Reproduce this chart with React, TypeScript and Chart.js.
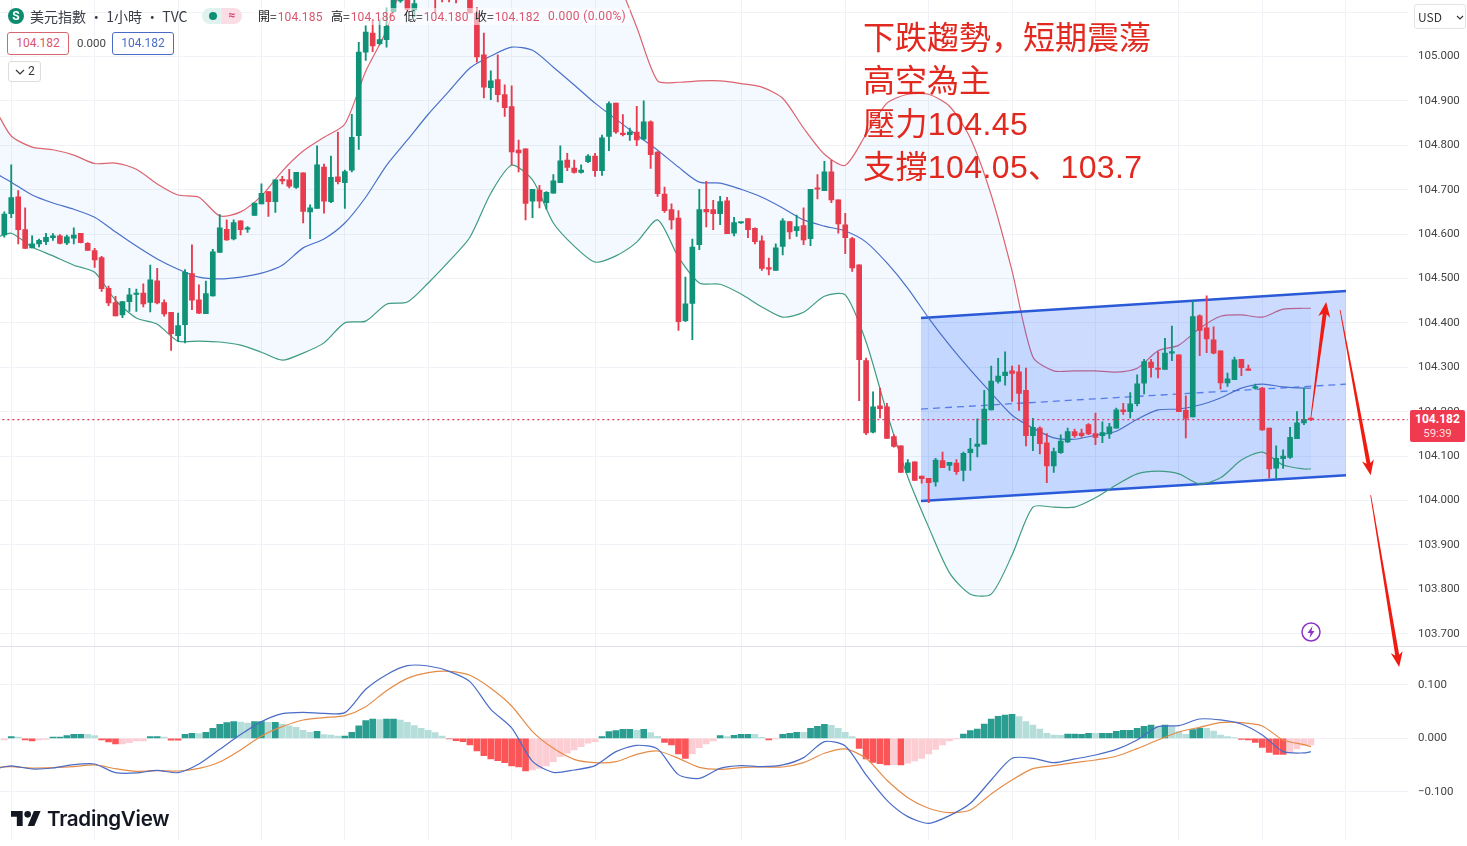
import React, { useEffect, useRef } from "react";
import Chart from "chart.js/auto";

// ---------- candles (one entry per hourly bar) ----------
const candleOpen = [
  104.598,104.646,104.684,104.61,104.569,104.578,104.583,104.592,104.596,104.58,
  104.591,104.602,104.579,104.563,104.547,104.478,104.446,104.418,104.448,104.464,
  104.467,104.446,104.495,104.446,104.424,104.371,104.396,104.511,104.452,104.421,
  104.461,104.559,104.611,104.589,104.63,104.611,104.642,104.668,104.696,104.673,
  104.722,104.722,104.705,104.738,104.65,104.658,104.751,104.673,104.729,104.716,
  104.744,104.822,105.01,105.053,105.029,105.038,105.101,105.125,105.17,105.105,
  105.15,105.18,105.2,105.16,105.15,105.15,105.14,105.135,105.098,105.004,
  104.93,104.948,104.914,104.887,104.789,104.792,104.674,104.699,104.671,104.692,
  104.716,104.767,104.749,104.739,104.763,104.776,104.743,104.82,104.895,104.827,
  104.824,104.83,104.814,104.853,104.785,104.69,104.655,104.636,104.405,104.444,
  104.576,104.656,104.655,104.646,104.675,104.602,104.625,104.635,104.613,104.585,
  104.523,104.518,104.572,104.628,104.608,104.619,104.59,104.702,104.698,104.74,
  104.677,104.621,104.59,104.531,104.315,104.154,104.213,104.211,104.144,104.123,
  104.063,104.087,104.055,104.05,104.042,104.09,104.079,104.084,104.068,104.108,
  104.122,104.127,104.204,104.268,104.281,104.292,104.29,104.248,104.146,104.163,
  104.13,104.078,104.108,104.132,104.155,104.152,104.171,104.151,104.146,104.15,
  104.163,104.204,104.2,104.218,104.264,104.312,104.296,104.295,104.332,104.328,
  104.203,104.188,104.416,104.389,104.362,104.337,104.265,104.272,104.318,104.296,
  104.253,104.253,104.163,104.073,104.094,104.097,104.139,104.175,104.185,
];
const candleHigh = [
  104.65,104.756,104.698,104.659,104.596,104.589,104.602,104.601,104.599,104.598,
  104.614,104.602,104.581,104.568,104.55,104.483,104.46,104.448,104.478,104.476,
  104.488,104.53,104.523,104.452,104.424,104.422,104.52,104.576,104.486,104.494,
  104.566,104.644,104.632,104.632,104.63,104.617,104.67,104.713,104.696,104.722,
  104.73,104.746,104.739,104.738,104.666,104.799,104.758,104.776,104.83,104.744,
  104.87,105.032,105.069,105.084,105.083,105.109,105.2,105.16,105.2,105.14,
  105.2,105.23,105.22,105.17,105.16,105.16,105.15,105.16,105.11,105.053,
  104.968,105.004,104.936,104.934,104.812,104.792,104.701,104.71,104.696,104.734,
  104.799,104.782,104.767,104.756,104.779,104.782,104.823,104.898,104.895,104.869,
  104.839,104.888,104.9,104.855,104.786,104.706,104.668,104.653,104.503,104.589,
  104.701,104.719,104.676,104.685,104.683,104.638,104.626,104.635,104.614,104.596,
  104.546,104.578,104.635,104.629,104.643,104.659,104.701,104.734,104.764,104.766,
  104.677,104.647,104.593,104.531,104.321,104.245,104.253,104.219,104.148,104.123,
  104.092,104.087,104.055,104.05,104.095,104.109,104.086,104.092,104.109,104.14,
  104.184,104.248,104.303,104.32,104.335,104.303,104.305,104.298,104.185,104.166,
  104.151,104.118,104.148,104.163,104.161,104.161,104.173,104.197,104.177,104.174,
  104.208,104.219,104.243,104.283,104.318,104.318,104.335,104.365,104.393,104.328,
  104.236,104.449,104.418,104.461,104.391,104.337,104.287,104.323,104.318,104.305,
  104.262,104.255,104.163,104.123,104.114,104.165,104.2,104.253,104.186,
];
const candleLow = [
  104.593,104.637,104.578,104.568,104.569,104.571,104.576,104.586,104.578,104.576,
  104.578,104.58,104.563,104.525,104.471,104.439,104.416,104.412,104.426,104.426,
  104.436,104.425,104.443,104.415,104.338,104.358,104.355,104.43,104.421,104.421,
  104.46,104.559,104.586,104.587,104.598,104.604,104.642,104.668,104.64,104.649,
  104.713,104.704,104.703,104.625,104.59,104.658,104.647,104.671,104.713,104.658,
  104.74,104.791,104.991,105.011,105.026,105.021,105.101,105.122,105.1,105.09,
  105.135,105.16,105.099,105.123,105.123,105.121,105.13,105.098,104.987,104.907,
  104.903,104.898,104.865,104.756,104.74,104.632,104.637,104.659,104.656,104.692,
  104.716,104.743,104.737,104.737,104.761,104.73,104.732,104.788,104.827,104.821,
  104.811,104.799,104.812,104.748,104.685,104.649,104.611,104.383,104.403,104.362,
  104.565,104.616,104.61,104.621,104.601,104.596,104.624,104.592,104.578,104.518,
  104.508,104.518,104.553,104.589,104.595,104.576,104.574,104.679,104.698,104.671,
  104.602,104.556,104.516,104.225,104.148,104.152,104.186,104.14,104.12,104.063,
  104.063,104.045,104.039,103.995,104.032,104.074,104.068,104.059,104.044,104.068,
  104.098,104.127,104.204,104.264,104.26,104.223,104.203,104.123,104.112,104.105,
  104.04,104.063,104.106,104.13,104.142,104.142,104.148,104.126,104.13,104.14,
  104.163,104.194,104.186,104.213,104.24,104.278,104.276,104.295,104.315,104.2,
  104.141,104.188,104.326,104.333,104.33,104.251,104.257,104.272,104.281,104.293,
  104.251,104.158,104.051,104.05,104.072,104.095,104.139,104.171,104.18,
];
const candleClose = [
  104.645,104.682,104.61,104.568,104.578,104.586,104.593,104.596,104.579,104.594,
  104.598,104.581,104.563,104.542,104.477,104.445,104.416,104.448,104.463,104.466,
  104.443,104.497,104.445,104.42,104.376,104.394,104.514,104.451,104.422,104.466,
  104.56,104.614,104.587,104.626,104.61,104.612,104.67,104.692,104.673,104.722,
  104.72,104.708,104.739,104.651,104.659,104.756,104.674,104.728,104.718,104.741,
  104.818,105.01,105.055,105.024,105.038,105.068,105.15,105.13,105.106,105.119,
  105.18,105.21,105.15,105.14,105.14,105.135,105.135,105.098,104.999,104.931,
  104.945,104.914,104.885,104.785,104.783,104.669,104.701,104.674,104.694,104.72,
  104.765,104.75,104.739,104.744,104.776,104.743,104.817,104.894,104.83,104.824,
  104.83,104.812,104.853,104.779,104.691,104.653,104.632,104.403,104.443,104.571,
  104.655,104.65,104.646,104.673,104.601,104.626,104.625,104.61,104.583,104.523,
  104.521,104.569,104.63,104.605,104.617,104.587,104.701,104.701,104.74,104.677,
  104.623,104.592,104.524,104.317,104.152,104.211,104.207,104.14,104.122,104.063,
  104.085,104.045,104.049,104.04,104.091,104.074,104.086,104.065,104.106,104.116,
  104.127,104.206,104.269,104.28,104.289,104.286,104.241,104.146,104.165,104.128,
  104.078,104.11,104.134,104.155,104.146,104.146,104.15,104.142,104.153,104.166,
  104.204,104.2,104.218,104.263,104.313,104.299,104.295,104.332,104.333,104.2,
  104.185,104.414,104.383,104.364,104.332,104.265,104.274,104.317,104.299,104.293,
  104.255,104.159,104.071,104.095,104.1,104.142,104.175,104.183,104.182,
];

// ---------- indicators, read at these bar numbers ----------
const sampleBars = [-1,1,4,7,10,13,16,19,22,25,28,31,34,37,40,43,46,49,52,55,58,61,64,67,70,73,76,79,82,85,88,91,94,97,100,103,106,109,112,115,118,121,124,127,130,133,136,139,142,145,148,151,154,157,160,163,166,169,172,175,178,181,184,187,188];
const bbUpper = [104.873,104.821,104.796,104.79,104.778,104.759,104.76,104.746,104.713,104.688,104.683,104.641,104.65,104.686,104.742,104.787,104.818,104.848,104.967,105.059,105.2,105.3,105.37,105.42,105.44,105.43,105.4,105.36,105.31,105.26,105.18,105.066,104.945,104.942,104.945,104.945,104.939,104.931,104.906,104.839,104.78,104.755,104.825,104.895,104.915,104.915,104.888,104.816,104.688,104.517,104.323,104.292,104.292,104.292,104.289,104.298,104.337,104.35,104.388,104.415,104.418,104.413,104.431,104.433,104.433];
const bbMiddle = [104.735,104.717,104.688,104.67,104.656,104.638,104.605,104.573,104.544,104.521,104.503,104.499,104.503,104.512,104.53,104.569,104.589,104.625,104.683,104.755,104.812,104.87,104.922,104.974,105.001,105.021,105.014,104.976,104.936,104.895,104.859,104.823,104.789,104.751,104.717,104.715,104.701,104.683,104.659,104.632,104.618,104.607,104.582,104.535,104.478,104.411,104.35,104.294,104.242,104.192,104.163,104.141,104.138,104.147,104.156,104.183,104.204,104.206,104.215,104.231,104.253,104.262,104.256,104.253,104.253];
const bbLower = [104.593,104.602,104.571,104.551,104.53,104.514,104.451,104.411,104.397,104.359,104.359,104.357,104.35,104.334,104.316,104.332,104.355,104.4,104.404,104.442,104.447,104.49,104.539,104.593,104.692,104.755,104.722,104.625,104.573,104.537,104.551,104.582,104.632,104.548,104.49,104.487,104.465,104.436,104.413,104.424,104.46,104.463,104.357,104.197,104.053,103.94,103.837,103.789,103.789,103.877,103.985,103.985,103.985,104.006,104.035,104.06,104.066,104.06,104.037,104.051,104.091,104.109,104.08,104.071,104.071];
const macdLine = [-0.0561,-0.0517,-0.0573,-0.0555,-0.0492,-0.048,-0.0642,-0.0648,-0.0598,-0.0642,-0.048,-0.0206,0.0069,0.0312,0.0461,0.0486,0.0467,0.048,0.0916,0.119,0.1358,0.1352,0.1252,0.1059,0.0542,0.0193,-0.043,-0.0636,-0.0592,-0.0511,-0.0249,-0.0131,-0.0199,-0.0679,-0.0748,-0.0561,-0.0511,-0.053,-0.0498,-0.0361,-0.0062,-0.0143,-0.0685,-0.1159,-0.1464,-0.1589,-0.1445,-0.1215,-0.0779,-0.0374,-0.0374,-0.0455,-0.0386,-0.0312,-0.0206,-0.0031,0.0218,0.0237,0.0361,0.0343,0.0268,0.0062,-0.0249,-0.0274,-0.0249];
const signalLine = [-0.0542,-0.053,-0.0555,-0.0548,-0.053,-0.0498,-0.0567,-0.0617,-0.0604,-0.0611,-0.0561,-0.0442,-0.0218,0.0044,0.0218,0.0343,0.0386,0.0424,0.0592,0.0891,0.1121,0.1227,0.1252,0.1178,0.0935,0.0604,0.0125,-0.0187,-0.0393,-0.0455,-0.0436,-0.0299,-0.0237,-0.0374,-0.0542,-0.0579,-0.0548,-0.0536,-0.0536,-0.0455,-0.028,-0.0199,-0.0374,-0.0785,-0.1109,-0.1308,-0.1389,-0.134,-0.104,-0.0779,-0.0567,-0.0511,-0.0455,-0.0405,-0.0336,-0.0193,-0.0031,0.0118,0.0206,0.0293,0.0293,0.0231,-0.0031,-0.0118,-0.0156];
const histogram = [
  -0.0031,0.0031,0.0025,-0.0031,-0.005,-0.0031,-0.0019,0.0025,0.0025,0.005,
  0.0075,0.0075,0.0075,0.005,-0.0031,-0.0069,-0.0106,-0.0106,-0.0081,-0.005,
  -0.005,0.0031,0.0031,0.0025,-0.0037,-0.0037,0.0075,0.0093,0.0087,0.0112,
  0.0187,0.0262,0.0293,0.0312,0.0305,0.0287,0.0312,0.0312,0.0299,0.0299,
  0.0268,0.0231,0.0206,0.015,0.0112,0.0131,0.0069,0.0062,0.0044,0.0044,
  0.0112,0.0231,0.033,0.0361,0.0349,0.0361,0.0361,0.0343,0.0299,0.0237,
  0.0187,0.015,0.0106,0.0044,-0.0012,-0.0044,-0.0062,-0.0125,-0.0237,-0.0324,
  -0.0386,-0.0417,-0.0455,-0.0517,-0.0536,-0.0611,-0.0592,-0.0561,-0.0517,-0.0436,
  -0.0343,-0.028,-0.0218,-0.0156,-0.0093,-0.0062,0.0031,0.0125,0.0143,0.0168,
  0.0168,0.015,0.0168,0.0106,0.0037,-0.0075,-0.0125,-0.0293,-0.0374,-0.0293,
  -0.0174,-0.0106,-0.005,0.005,0.0031,0.0056,0.0075,0.0075,0.0075,0.0019,
  -0.0031,-0.0006,0.0075,0.0093,0.0112,0.0112,0.0187,0.0224,0.0262,0.0243,
  0.0187,0.0112,0.0031,-0.0187,-0.0386,-0.0449,-0.0474,-0.0498,-0.0498,-0.0498,
  -0.0467,-0.0424,-0.0374,-0.0293,-0.0206,-0.0125,-0.005,-0.0006,0.0081,0.0143,
  0.0174,0.0268,0.0361,0.0411,0.0436,0.0449,0.0405,0.0312,0.0249,0.0174,
  0.0093,0.0062,0.0056,0.0081,0.0081,0.0075,0.0093,0.0093,0.0093,0.0093,
  0.0131,0.015,0.015,0.0187,0.0224,0.0249,0.0224,0.0249,0.0218,0.0125,
  0.0075,0.0162,0.0187,0.0187,0.0137,0.0062,0.0031,0.0012,-0.0019,-0.0031,
  -0.0075,-0.0168,-0.0262,-0.0299,-0.0299,-0.0262,-0.02,-0.0137,-0.0125,
];
const histDark = [
  0,1,0,1,1,0,0,1,1,1, 1,1,0,0,1,1,1,0,0,0, 0,1,1,0,1,1,1,1,0,1,
  1,1,1,1,0,0,1,1,0,1, 0,0,0,0,0,1,0,0,0,1, 1,1,1,1,0,1,1,0,0,0,
  0,0,0,0,1,1,1,1,1,1, 1,1,1,1,1,1,0,0,0,0, 0,0,0,0,0,0,1,1,1,1,
  1,0,1,0,0,1,1,1,1,0, 0,0,0,1,0,1,1,1,0,0, 1,0,1,1,1,0,1,1,1,0,
  0,0,0,1,1,1,1,1,0,1, 0,0,0,0,0,0,0,0,1,1, 1,1,1,1,1,1,0,0,0,0,
  0,0,0,1,1,1,1,0,1,1, 1,1,1,1,1,1,0,1,0,0, 0,1,1,0,0,0,0,0,1,1,
  1,1,1,1,1,0,0,0,0,
];

// ---------- axes ----------
const priceTicks = [103.7,103.8,103.9,104.0,104.1,104.2,104.3,104.4,104.5,104.6,104.7,104.8,104.9,105.0,105.1];
const hiddenPriceLabels = [105.1];
const macdTicks = [-0.1,0,0.1];
const gridBars = [1,13,25,37,49,61,73,85,106,121,133,145,157,169,181,193];

// ---------- drawings on the chart ----------
const lastPrice = 104.182;
const channelBars = [131.9,193.05];
const channelTop = [104.411,104.472];
const channelMiddle = [104.206,104.262];
const channelBottom = [103.999,104.057];
const arrowTails = [[188,104.187],[192.2,104.429],[196.6,104.012]];
const arrowTips = [[190.2,104.447],[196.6,104.057],[200.7,103.625]];

const noteLines = ["下跌趨勢，短期震蕩","高空為主","壓力104.45","支撐104.05、103.7"];
const legendParts = [
  { key:"開=", value:"104.185", left:258 },
  { key:"高=", value:"104.186", left:331 },
  { key:"低=", value:"104.180", left:404 },
  { key:"收=", value:"104.182", left:475 },
];

const UP = "#0f9278";
const DOWN = "#e63c4e";
const bars = candleOpen.map((_, i) => i);
const upColor = bars.map(i => (candleClose[i] >= candleOpen[i] ? UP : DOWN));
const pts = (ys: number[], xs: number[] = sampleBars) => ys.map((y, i) => ({ x: xs[i], y }));
const lineBase = { type:"line", pointRadius:0, pointHoverRadius:0, borderWidth:1.2, tension:0.25, fill:false };

const arrowPlugin = {
  id:"drawings",
  afterDatasetsDraw(chart: any) {
    const { ctx, scales:{ x, y } } = chart;
    ctx.save();
    ctx.strokeStyle = "#dfe2ea";
    ctx.lineWidth = 1;
    ctx.beginPath();
    ctx.moveTo(0, Math.round(y.bottom)+0.5);
    ctx.lineTo(chart.width, Math.round(y.bottom)+0.5);
    ctx.stroke();
    ctx.fillStyle = "#f01c12";
    arrowTails.forEach((t, i) => {
      const x0 = x.getPixelForValue(t[0]), y0 = y.getPixelForValue(t[1]);
      const x1 = x.getPixelForValue(arrowTips[i][0]), y1 = y.getPixelForValue(arrowTips[i][1]);
      const len = Math.hypot(x1-x0, y1-y0);
      const ux = (x1-x0)/len, uy = (y1-y0)/len, nx = -uy, ny = ux;
      const headLen = 15, bx = x1-ux*headLen, by = y1-uy*headLen, nk = x1-ux*(headLen-3), nky = y1-uy*(headLen-3);
      ctx.beginPath();
      ctx.moveTo(x0-nx*0.4, y0-ny*0.4);
      ctx.lineTo(x0+nx*0.4, y0+ny*0.4);
      ctx.lineTo(nk+nx*2, nky+ny*2);
      ctx.lineTo(bx+nx*6, by+ny*6);
      ctx.lineTo(x1, y1);
      ctx.lineTo(bx-nx*6, by-ny*6);
      ctx.lineTo(nk-nx*2, nky-ny*2);
      ctx.closePath();
      ctx.fill();
    });
    ctx.restore();
  },
};

const fitAxis = (s: any) => { s.width = 59; s.paddingTop = 0; s.paddingBottom = 0; };

const sans = '"Noto Sans CJK TC","Noto Sans",sans-serif';
const numeric = 'Roboto,"Noto Sans",sans-serif';
const abs = (o: any): React.CSSProperties => ({ position:"absolute", whiteSpace:"nowrap", ...o });

export default function App() {
  const ref = useRef<HTMLCanvasElement | null>(null);
  useEffect(() => {
    document.body.style.margin = "0";
    const chart = new Chart(ref.current as HTMLCanvasElement, {
      data: {
        datasets: [
          { ...lineBase, label:"BB upper", data:pts(bbUpper), borderColor:"#dc6470", yAxisID:"y", order:6, fill:{ target:2 }, backgroundColor:"rgba(33,150,243,0.055)" },
          { ...lineBase, label:"BB basis", data:pts(bbMiddle), borderColor:"#4b70c9", yAxisID:"y", order:3 },
          { ...lineBase, label:"BB lower", data:pts(bbLower), borderColor:"#3f9c80", yAxisID:"y", order:3 },
          { ...lineBase, label:"Channel top", data:pts(channelTop, channelBars), borderColor:"#2b5ad6", borderWidth:2.4, tension:0, yAxisID:"y", order:5, fill:{ target:4 }, backgroundColor:"rgba(41,98,255,0.23)" },
          { ...lineBase, label:"Channel bottom", data:pts(channelBottom, channelBars), borderColor:"#2b5ad6", borderWidth:2.4, tension:0, yAxisID:"y", order:5 },
          { ...lineBase, label:"Channel middle", data:pts(channelMiddle, channelBars), borderColor:"#6384e2", borderWidth:1.3, borderDash:[7,5], tension:0, yAxisID:"y", order:5 },
          { type:"bar", label:"Wick", data:bars.map(i => ({ x:i, y:[candleLow[i], candleHigh[i]] })), backgroundColor:upColor, barThickness:1.2, grouped:false, yAxisID:"y", order:2 },
          { type:"bar", label:"Body", data:bars.map(i => ({ x:i, y:[candleOpen[i], candleClose[i]] })), backgroundColor:upColor, barThickness:5, grouped:false, minBarLength:1.5, yAxisID:"y", order:1 },
          { ...lineBase, label:"Last price", data:pts([lastPrice,lastPrice],[-1,202]), borderColor:"#e0365c", borderWidth:1.3, borderDash:[2,3], tension:0, yAxisID:"y", order:0 },
          { type:"bar", label:"Histogram", data:bars.map(i => ({ x:i, y:histogram[i] })), backgroundColor:bars.map(i => histogram[i] >= 0 ? (histDark[i] ? "#2a9d90" : "#b5dedb") : (histDark[i] ? "#fb5558" : "#fccdd3")), barThickness:6, grouped:false, yAxisID:"macd", order:4 },
          { ...lineBase, label:"Signal", data:pts(signalLine), borderColor:"#e58c48", yAxisID:"macd", order:1 },
          { ...lineBase, label:"MACD", data:pts(macdLine), borderColor:"#4a6cc6", yAxisID:"macd", order:0 },
        ],
      } as any,
      options: {
        responsive:false,
        animation:false,
        events:[],
        layout:{ padding:{ left:0, right:0, top:0, bottom:6 } },
        plugins:{ legend:{ display:false }, tooltip:{ enabled:false } },
        scales:{
          x:{
            type:"linear", min:-0.619, max:201.97, offset:false,
            grid:{ color:"#f0f2f7", drawTicks:false, offset:false }, border:{ display:false },
            ticks:{ display:false },
            afterBuildTicks:(s: any) => { s.ticks = gridBars.map(value => ({ value })); },
            afterFit:(s: any) => { s.height = 0; s.paddingLeft = 0; s.paddingRight = 0; },
          },
          y:{
            type:"linear", position:"right", stack:"panes", stackWeight:645.5, weight:1,
            min:103.6734, max:105.1273,
            grid:{ color:"#f0f2f7", drawTicks:false }, border:{ display:false },
            ticks:{
              padding:10, color:"#444", font:{ family:numeric, size:11.5 },
              callback:(v: any) => hiddenPriceLabels.includes(Number(Number(v).toFixed(1))) ? "" : Number(v).toFixed(3),
            },
            afterBuildTicks:(s: any) => { s.ticks = priceTicks.map(value => ({ value })); },
            afterFit:fitAxis,
          },
          macd:{
            type:"linear", position:"right", stack:"panes", stackWeight:194.5, weight:2,
            min:-0.1901, max:0.1735,
            grid:{ color:"#f0f2f7", drawTicks:false }, border:{ display:false },
            ticks:{
              padding:10, color:"#444", font:{ family:numeric, size:11.5 },
              callback:(v: any) => (Number(v) < -1e-9 ? "\u2212" : "") + Math.abs(Number(v)).toFixed(3),
            },
            afterBuildTicks:(s: any) => { s.ticks = macdTicks.map(value => ({ value })); },
            afterFit:fitAxis,
          },
        },
      } as any,
      plugins:[arrowPlugin as any],
    } as any);
    return () => chart.destroy();
  }, []);

  return (
    <div style={{ position:"absolute", left:0, top:0, width:1467, height:846, overflow:"hidden", background:"#fff" }}>
      <canvas ref={ref} width={1467} height={846} style={{ display:"block", width:1467, height:846 }} />

      {/* legend backdrop and header */}
      <div style={abs({ left:252, top:8, width:378, height:17, background:"rgba(255,255,255,0.55)" })} />
      <div style={abs({ left:8, top:8, width:16, height:16, borderRadius:8, background:"#0e8a6e", color:"#fff", font:`bold 12px/16px ${numeric}`, textAlign:"center" })}>S</div>
      <div style={abs({ left:30, top:6, font:`14px/20px ${sans}`, color:"#3a3d45" })}>美元指數 · 1小時 · TVC</div>
      <div style={abs({ left:202, top:8, width:20, height:16, background:"#dff2ee", borderRadius:"8px 0 0 8px" })} />
      <div style={abs({ left:222, top:8, width:20, height:16, background:"#fbdde5", borderRadius:"0 8px 8px 0", color:"#d9406a", font:`bold 12px/15px ${numeric}`, textAlign:"center" })}>≈</div>
      <div style={abs({ left:209, top:12, width:8, height:8, borderRadius:4, background:"#0e8f74" })} />
      {legendParts.map(p => (
        <div key={p.key} style={abs({ left:p.left, top:8, font:`12px/16px ${sans}`, color:"#222" })}>
          {p.key}<span style={{ color:"#d9566c", fontFamily:numeric, letterSpacing:0.2, marginLeft:1 }}>{p.value}</span>
        </div>
      ))}
      <div style={abs({ left:548, top:8, font:`12px/16px ${numeric}`, color:"#d9566c", letterSpacing:0.35 })}>0.000 (0.00%)</div>

      <div style={abs({ left:7, top:32, width:60, height:21, border:"1px solid #d9666f", borderRadius:3, color:"#d9566c", font:`12px/21px ${numeric}`, textAlign:"center", background:"#fff" })}>104.182</div>
      <div style={abs({ left:77, top:35, font:`11.5px/16px ${numeric}`, color:"#444" })}>0.000</div>
      <div style={abs({ left:112, top:32, width:60, height:21, border:"1px solid #4a6cc6", borderRadius:3, color:"#4a6cc6", font:`12px/21px ${numeric}`, textAlign:"center", background:"#fff" })}>104.182</div>
      <div style={abs({ left:8, top:61, width:31, height:19, border:"1px solid #ddd", borderRadius:3, color:"#333", font:`12px/19px ${numeric}`, background:"#fff" })}>
        <svg width="10" height="6" style={{ position:"absolute", left:6, top:7 }}><path d="M1 1l4 4 4-4" fill="none" stroke="#333" strokeWidth="1.2" /></svg>
        <span style={{ position:"absolute", left:19 }}>2</span>
      </div>

      <div style={abs({ left:1414, top:4, width:50, height:23, border:"1px solid #e2e3e8", borderRadius:3, background:"#fff", color:"#333", font:`12px/23px ${sans}` })}>
        <span style={{ position:"absolute", left:3 }}>USD</span>
        <svg width="8" height="5" style={{ position:"absolute", left:41, top:10 }}><path d="M1 1l3 3 3-3" fill="none" stroke="#333" strokeWidth="1.1" /></svg>
      </div>

      {/* trader's note */}
      {noteLines.map((t, i) => (
        <div key={t} style={abs({ left:863, top:16 + i*43, font:`32px/44px "Liberation Sans","Noto Sans CJK SC",sans-serif`, color:"#e2291f", letterSpacing:i > 1 ? 0.4 : 0 })}>{t}</div>
      ))}

      {/* last price tag */}
      <div style={abs({ left:1410, top:410, width:55, height:32, background:"#ef3a50", color:"#fff", borderRadius:2, textAlign:"center" })}>
        <div style={{ font:`bold 12px/15px ${numeric}`, marginTop:2 }}>104.182</div>
        <div style={{ font:`11.5px/13px ${numeric}`, color:"#fdd" }}>59:39</div>
      </div>

      {/* replay icon */}
      <svg width="22" height="22" style={{ position:"absolute", left:1300, top:621 }}>
        <circle cx="11" cy="11" r="9" fill="#fff" stroke="#8c35c4" strokeWidth="1.5" />
        <path d="M12.5 5L7.5 12h3l-1 5 5-7h-3z" fill="#8c35c4" />
      </svg>

      {/* watermark */}
      <svg width="30" height="15" viewBox="0 4 36 18" style={{ position:"absolute", left:11, top:811 }}>
        <path d="M14 22H7V11H0V4h14v18zM28 22h-8l7.5-18h8L28 22z" fill="#131722" />
        <circle cx="20" cy="8" r="4" fill="#131722" />
      </svg>
      <div style={abs({ left:47, top:805, font:`600 20.6px/28px Inter,sans-serif`, color:"#131722", letterSpacing:-0.3 })}>TradingView</div>
    </div>
  );
}
